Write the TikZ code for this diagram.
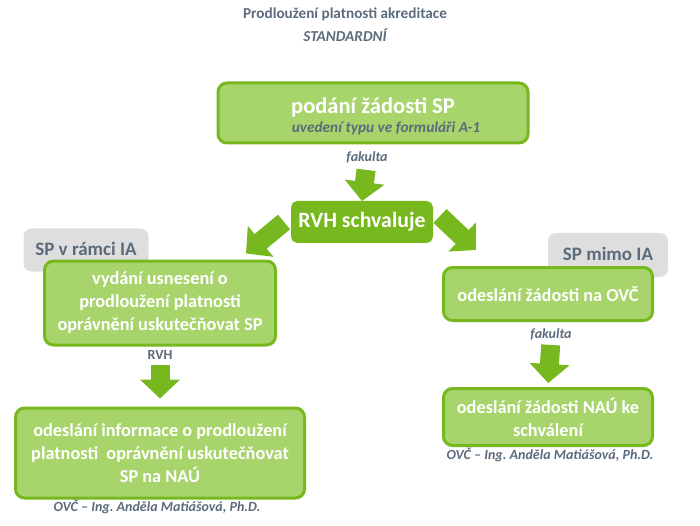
\documentclass[tikz,border=0pt]{standalone}
\usepackage{fontspec}
\setmainfont{Carlito}
\usetikzlibrary{arrows.meta}
\definecolor{lightgreen}{HTML}{A8D46C}
\definecolor{darkgreen}{HTML}{77B81F}
\definecolor{textgray}{HTML}{5B6B7C}
\definecolor{boxgray}{HTML}{DEDEDE}
\frenchspacing

\begin{document}
\begin{tikzpicture}[x=1pt,y=-1pt,
    greenbox/.style={draw=darkgreen,fill=lightgreen,line width=3pt,rounded corners=9pt,
      align=center,text=white,inner sep=0pt,font=\bfseries\fontsize{18.3}{23}\selectfont},
    graybox/.style={fill=boxgray,rounded corners=8pt,text=textgray,inner sep=0pt,
      font=\bfseries\fontsize{19}{22}\selectfont},
    note/.style={text=textgray,inner sep=0pt,font=\bfseries\itshape\fontsize{14}{16}\selectfont},
    bigarrow/.style={draw=darkgreen,line width=19pt,-{Triangle[length=19pt,width=39pt]}}]
  \useasboundingbox (0,0) rectangle (700,526);

  \node (title) at (345,14) [text=textgray,font=\bfseries\fontsize{15.2}{18}\selectfont] {Prodloužení platnosti akreditace};
  \node (std) at (345,35) [text=textgray,font=\bfseries\itshape\fontsize{15.2}{18}\selectfont] {STANDARDNÍ};

  \node [graybox,minimum width=125pt,minimum height=43pt] (ramci) at (86,250) {\raisebox{3pt}{SP v rámci IA}};
  \node [graybox,minimum width=120pt,minimum height=44pt] (mimo) at (608,255) {\raisebox{3pt}{SP mimo IA}};

  \node [greenbox,minimum width=310pt,minimum height=60pt] (podani) at (373,113)
    {\raisebox{-3pt}[\height][\depth]{\fontsize{22.5}{23}\selectfont podání žádosti SP}\\[-4pt]
     \hspace*{26pt}\raisebox{-3pt}[\height][\depth]{\color{textgray}\itshape\fontsize{15.3}{18}\selectfont uvedení typu ve formuláři A-1}};
  \node [note] (fak1) at (367,157) {fakulta};
  \node [greenbox,fill=darkgreen,rounded corners=5pt,minimum width=139pt,minimum height=39pt,
    font=\bfseries\fontsize{21.8}{24}\selectfont] (rvh) at (362,222) {RVH schvaluje};

  \node [greenbox,minimum width=231pt,minimum height=84pt] (usneseni) at (160,303)
    {vydání usnesení o\\prodloužení platnosti\\oprávnění uskutečňovat SP};
  \node [note,font=\bfseries\fontsize{14}{16}\selectfont] (rvh2) at (160,355) {RVH};
  \node [greenbox,minimum width=289pt,minimum height=90pt] (informace) at (160,453)
    {odeslání informace o prodloužení\\platnosti~ oprávnění uskutečňovat\\SP na NAÚ};
  \node [note] (ovc1) at (157,507) {OVČ – Ing. Anděla Matiášová, Ph.D.};

  \node [greenbox,minimum width=209pt,minimum height=53pt] (naovc) at (548,294) {odeslání žádosti na OVČ};
  \node [note] (fak2) at (551,334) {fakulta};
  \node [greenbox,minimum width=209pt,minimum height=57pt] (nau) at (548,417) {odeslání žádosti NAÚ ke\\schválení};
  \node [note] (ovc2) at (550,455) {OVČ – Ing. Anděla Matiášová, Ph.D.};

  \draw [bigarrow,shorten <=7pt] (fak1.south) -- (rvh.north);
  \draw [bigarrow] ([xshift=-7pt]rvh.west) -- ([xshift=-31pt,yshift=6pt]usneseni.north east);
  \draw [bigarrow] ([xshift=7pt,yshift=6pt]rvh.east) -- ([xshift=34pt,yshift=16pt]naovc.north west);
  \draw [bigarrow,shorten <=5pt,shorten >=8pt] (rvh2.south) -- (informace.north);
  \draw [bigarrow,shorten <=5pt,shorten >=4pt] (fak2.south) -- (nau.north);
\end{tikzpicture}
\end{document}
